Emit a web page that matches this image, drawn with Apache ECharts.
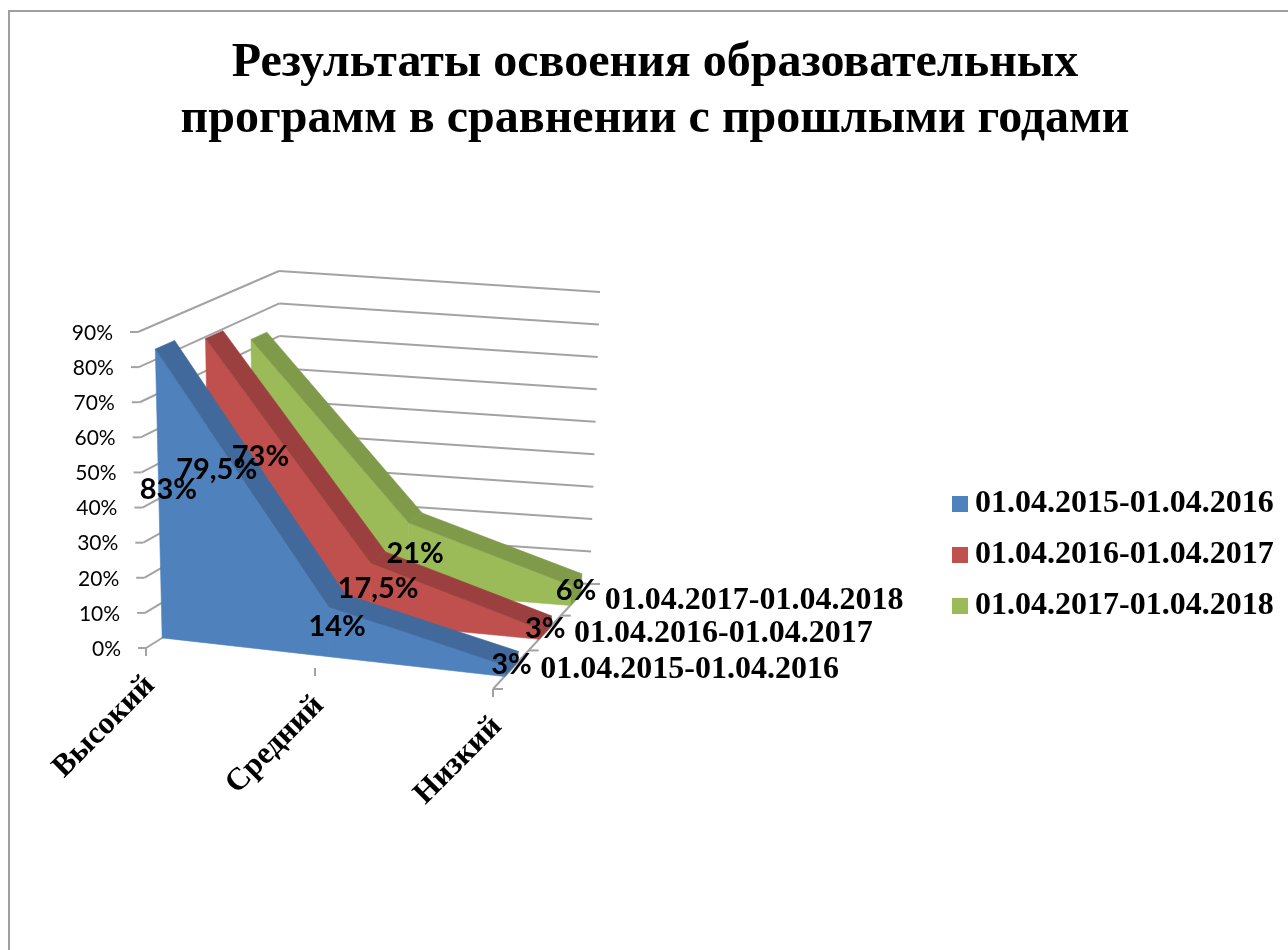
<!DOCTYPE html>
<html>
<head>
<meta charset="utf-8">
<title>Результаты освоения образовательных программ</title>
<style>
  html, body { margin: 0; padding: 0; background: #fff; }
  #main { width: 1288px; height: 950px; }
</style>
</head>
<body>
<div id="main"></div>
<script src="https://cdn.jsdelivr.net/npm/echarts@6/dist/echarts.min.js"></script>
<script>
const categories = ['Высокий', 'Средний', 'Низкий'];
const seriesNames = ['01.04.2015-01.04.2016', '01.04.2016-01.04.2017', '01.04.2017-01.04.2018'];
const values2016 = [83, 14, 3];
const values2017 = [79.5, 17.5, 3];
const values2018 = [73, 21, 6];
const valueTicks = [0, 10, 20, 30, 40, 50, 60, 70, 80, 90];

const seriesValues = [values2016, values2017, values2018];
const faceColors = ['#4f81bd', '#c0504d', '#9bbb59'];
const topColors = ['#41699b', '#9b403e', '#7f9a49'];
const lineColor = '#a3a3a3';
const sansFont = 'Lato';
const serifFont = '"Liberation Serif"';

// the hidden cartesian grid gives the scales, project() tilts its output into the 3d box
const grid = { left: 146, top: 332, width: 347, height: 316 };
// box corners on screen, index = [across][up][deep]
const box = {
  '000': [146, 648], '010': [138, 332], '001': [282, 563], '011': [279, 271],
  '100': [493, 689], '110': [503, 355], '101': [590, 584], '111': [600, 292]
};

function lerp(a, b, t) { return a + (b - a) * t; }
function foreshorten(t, k) { return t / (t + (1 - t) * k); }

function project(pt, depth) {
  const u = foreshorten((pt[0] - grid.left) / grid.width, 1.053);
  const v = (grid.top + grid.height - pt[1]) / grid.height;
  const d = foreshorten(depth, 0.862);
  const out = [];
  for (let n = 0; n < 2; n++) {
    const front = lerp(lerp(box['000'][n], box['010'][n], v), lerp(box['100'][n], box['110'][n], v), u);
    const rear = lerp(lerp(box['001'][n], box['011'][n], v), lerp(box['101'][n], box['111'][n], v), u);
    out.push(lerp(front, rear, d));
  }
  return out;
}

function poly(points, color, z2) {
  return {
    type: 'polygon', z2: z2,
    shape: { points: points },
    style: { fill: color, stroke: color, lineWidth: 0.6 }
  };
}

function seg(a, b) {
  return {
    type: 'line',
    shape: { x1: a[0], y1: a[1], x2: b[0], y2: b[1] },
    style: { stroke: lineColor, lineWidth: 2 }
  };
}

function label(text, x, y, font, size, weight, align) {
  return {
    type: 'text',
    style: {
      x: x, y: y, text: text, fill: '#000', align: align, verticalAlign: 'middle',
      fontFamily: font, fontSize: size, fontWeight: weight
    }
  };
}

function areaItem(idx) {
  const vals = seriesValues[idx];
  const near = (idx + 0.5) / 3 - 0.0625;
  const far = (idx + 0.5) / 3 + 0.0625;
  return function (params, api) {
    const i = params.dataIndex;
    if (i === vals.length - 1) {
      // right hand end of the band
      const p = api.coord([i, vals[i]]);
      const b = api.coord([i, 0]);
      return poly([project(p, near), project(p, far), project(b, far), project(b, near)], topColors[idx], 0);
    }
    const p0 = api.coord([i, vals[i]]);
    const p1 = api.coord([i + 1, vals[i + 1]]);
    const b0 = api.coord([i, 0]);
    const b1 = api.coord([i + 1, 0]);
    return {
      type: 'group',
      children: [
        poly([project(b0, near), project(p0, near), project(p1, near), project(b1, near)], faceColors[idx], 1),
        poly([project(p0, near), project(p0, far), project(p1, far), project(p1, near)], topColors[idx], 1)
      ]
    };
  };
}

function labelItem(idx) {
  const vals = seriesValues[idx];
  return function (params, api) {
    const i = params.dataIndex;
    const pos = project(api.coord([i, vals[i] / 2]), (idx + 0.5) / 3);
    return label(String(vals[i]).replace('.', ',') + '%', pos[0], pos[1] + 1, sansFont, 29, 'bold', 'center');
  };
}

function valueTickItem(params, api) {
  const v = valueTicks[params.dataIndex];
  const a = api.coord([0, v]);
  const b = api.coord([categories.length - 1, v]);
  const front = project(a, 0);
  const rear = project(a, 1);
  const right = project(b, 1);
  return {
    type: 'group',
    children: [
      seg(front, rear),
      seg(rear, right),
      seg([front[0] - 8, front[1]], front),
      label(v + '%', front[0] - 25, front[1] + 1, sansFont, 21, 'normal', 'right')
    ]
  };
}

function categoryItem(params, api) {
  const i = params.dataIndex;
  const p = project(api.coord([i, 0]), 0);
  const parts = [seg(p, [p[0], p[1] + 8])];
  const t = label(categories[i], 0, 0, serifFont, 31.5, 'bold', 'right');
  t.x = p[0] + 4;
  t.y = p[1] + 33;
  t.rotation = Math.PI / 4;
  parts.push(t);
  if (i === categories.length - 1) {
    parts.push(seg(p, project(api.coord([i, 0]), 1)));
    for (let s = 0; s <= seriesNames.length; s++) {
      const q = project(api.coord([i, 0]), s / seriesNames.length);
      parts.push(seg(q, [q[0] + 10, q[1]]));
    }
  }
  return { type: 'group', children: parts };
}

function depthNameItem(params, api) {
  const s = params.dataIndex;
  const q = project(api.coord([categories.length - 1, 0]), (s + 0.5) / 3);
  return label(seriesNames[s], q[0] + 29, q[1] + 1, serifFont, 32, 'bold', 'left');
}

const series = [
  { type: 'custom', name: 'walls', z: 1, silent: true, renderItem: valueTickItem, data: valueTicks.map(function (v) { return [0, v]; }) },
  { type: 'custom', name: 'cats', z: 1, silent: true, renderItem: categoryItem, data: categories.map(function (c, i) { return [i, 0]; }) },
  { type: 'custom', name: 'depth', z: 9, silent: true, renderItem: depthNameItem, data: seriesNames.map(function (n) { return [2, 0]; }) }
];
seriesNames.forEach(function (name, idx) {
  series.push({
    type: 'custom', name: name, z: 5 - idx, silent: true,
    itemStyle: { color: faceColors[idx] },
    renderItem: areaItem(idx),
    data: seriesValues[idx].map(function (v, i) { return [i, v]; })
  });
  series.push({
    type: 'custom', name: name + ' labels', z: 10, silent: true,
    renderItem: labelItem(idx),
    data: seriesValues[idx].map(function (v, i) { return [i, v]; })
  });
});

const chart = echarts.init(document.getElementById('main'));
chart.setOption({
  animation: false,
  backgroundColor: '#fff',
  title: {
    text: 'Результаты освоения образовательных\nпрограмм в сравнении с прошлыми годами',
    left: 650, top: 31, textAlign: 'center',
    textStyle: { fontFamily: serifFont, fontSize: 48, fontWeight: 'bold', color: '#000', lineHeight: 56 }
  },
  legend: {
    data: seriesNames, orient: 'vertical', left: 947, top: 483,
    icon: 'rect', itemWidth: 16, itemHeight: 16, itemGap: 19, selectedMode: false,
    textStyle: { fontFamily: serifFont, fontSize: 32, fontWeight: 'bold', color: '#000', padding: [0, 0, 0, 2] }
  },
  grid: grid,
  xAxis: { type: 'category', data: categories, boundaryGap: false, show: false },
  yAxis: { type: 'value', min: 0, max: 90, interval: 10, show: false },
  graphic: [
    { type: 'line', silent: true, shape: { x1: 8, y1: 11, x2: 1288, y2: 11 }, style: { stroke: '#a0a0a0', lineWidth: 2 } },
    { type: 'line', silent: true, shape: { x1: 9, y1: 10, x2: 9, y2: 950 }, style: { stroke: '#a0a0a0', lineWidth: 2 } }
  ],
  series: series
});
</script>
</body>
</html>
